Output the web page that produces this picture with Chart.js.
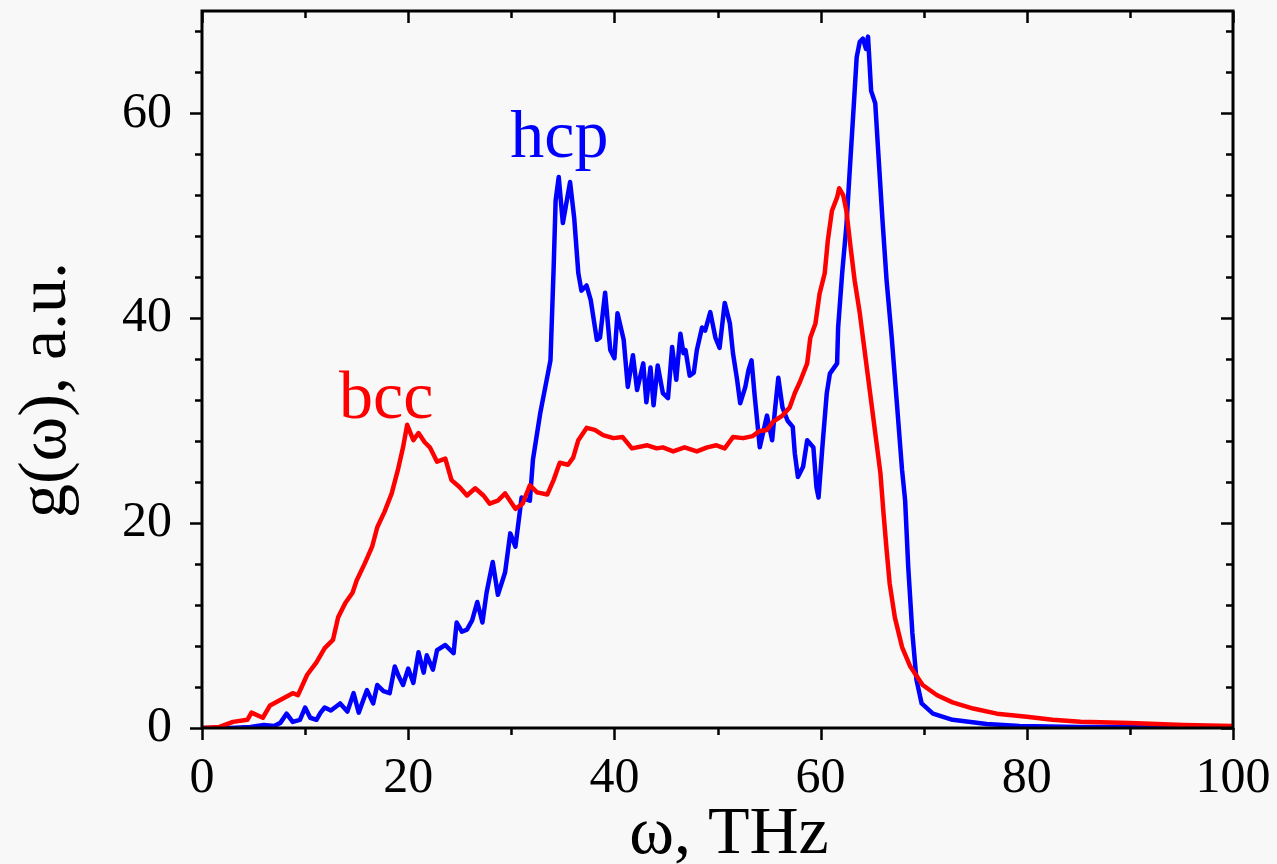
<!DOCTYPE html>
<html><head><meta charset="utf-8">
<script src="https://cdn.jsdelivr.net/npm/chart.js@4.4.0/dist/chart.umd.min.js"></script>
<style>html,body{margin:0;padding:0;background:#f8f8f8;}#wrap{width:1277px;height:864px;}</style>
</head><body><div id="wrap"><canvas id="c" width="1277" height="864"></canvas></div>
<script>
// ---- data (ω in THz, g(ω) in a.u.) ----
const hcpOmega = [0,2,2.7,4.7,6,7,7.6,8.2,8.8,9.5,10,10.5,11.1,11.5,11.9,12.5,13.4,14.1,14.7,15.2,16,16.6,17,17.6,18.2,18.7,19.1,19.5,20,20.5,21,21.5,21.8,22.4,22.8,23.6,24.4,24.7,25.2,25.7,26.2,26.7,27.2,27.6,28.2,28.7,29.4,29.9,30.4,31.0,31.8,32.1,32.8,33.3,33.8,34.1,34.3,34.6,35.0,35.7,36.1,36.5,36.8,37.3,37.7,38.3,38.6,39.1,39.6,40.0,40.3,40.9,41.3,41.8,42.2,42.8,43.1,43.5,43.8,44.2,44.7,45.2,45.6,46.0,46.4,46.7,46.9,47.3,47.7,48.0,48.5,48.8,49.3,49.8,50.2,50.7,51.2,51.5,51.9,52.2,52.7,53.0,53.3,53.6,54.1,54.8,55.3,55.6,55.9,56.3,56.8,57.3,57.5,57.8,58.3,58.7,59.3,59.6,59.8,60.2,60.6,60.9,61.6,61.7,62.1,62.5,62.8,63.2,63.5,63.8,64.1,64.4,64.6,64.9,65.3,65.6,66.0,66.4,66.9,67.4,67.9,68.2,68.5,68.9,69.3,69.8,70.9,72.8,76.1,79.3,85,100];
const hcpG = [0,0,0,0.1,0.3,0.2,0.5,1.4,0.6,0.8,2.0,1.0,0.8,1.5,2.0,1.7,2.4,1.6,3.4,1.5,3.7,2.4,4.2,3.6,3.4,6.0,5.0,4.2,5.8,4.4,7.4,5.4,7.1,5.7,7.6,8.1,7.3,10.3,9.4,9.6,10.5,12.3,10.3,13.2,16.2,13.0,15.2,19.0,17.7,22.5,22.2,26.2,30.7,33.3,35.9,44.7,51.5,53.8,49.3,53.3,49.8,44.4,42.7,43.2,41.8,37.9,38.1,42.5,36.9,36.1,40.5,37.9,33.3,36.4,33.0,35.6,31.8,35.2,31.5,35.4,32.7,32.2,37.2,34.0,38.5,36.6,36.9,34.4,34.7,36.9,39.1,38.8,40.6,38.1,37.1,41.5,39.5,36.6,34.0,31.7,33.3,34.9,35.9,32.5,27.4,30.5,28.1,31.3,34.2,31.3,30.0,29.4,26.8,24.5,25.5,28.1,27.4,23.5,22.5,27.8,32.7,34.6,35.6,39.1,44.5,49.0,54.0,60.5,65.5,67.0,67.3,66.3,67.5,62.2,61.0,56.1,49.6,43.7,38.1,31.7,25.2,22.2,15.7,9.3,4.7,2.4,1.4,0.8,0.4,0.2,0.1,0.1];
const bccOmega = [0,1.7,3,4.4,4.8,5.9,6.6,7.9,8.8,9.3,10.2,11.1,11.9,12.7,13.2,13.9,14.6,15.0,15.8,16.5,17.0,17.7,18.4,19.0,19.5,19.9,20.5,21.0,21.6,22.1,22.8,23.6,24.2,25.0,25.7,26.5,27.3,27.9,28.7,29.4,30.4,31.1,31.8,32.5,33.5,34.1,34.7,35.5,36.0,36.5,37.3,38.1,38.9,39.9,40.8,41.7,43.2,44.1,44.7,45.7,46.8,48.0,49.0,49.9,50.7,51.5,52.5,53.4,54.1,54.8,55.4,56.3,57.0,57.5,58.0,58.7,59.0,59.5,59.9,60.4,60.7,61.1,61.6,61.8,62.2,62.5,62.9,63.3,63.8,64.3,64.8,65.3,65.8,66.1,66.4,66.7,67.2,67.9,68.7,69.9,71.3,72.8,74.8,77.1,80.0,82.5,85.2,90,95.2,100];
const bccG = [0,0.1,0.6,0.8,1.5,1.0,2.2,2.9,3.4,3.2,5.2,6.4,7.8,8.6,10.8,12.2,13.2,14.4,16.1,17.7,19.6,21.1,22.9,25.2,27.4,29.6,28.1,28.8,27.9,27.4,26.0,26.3,24.2,23.5,22.7,23.4,22.7,21.9,22.2,22.9,21.4,21.9,23.7,23.0,22.8,24.2,25.9,25.7,26.4,28.1,29.3,29.1,28.6,28.3,28.4,27.3,27.6,27.3,27.4,27.0,27.4,27.0,27.4,27.6,27.3,28.4,28.3,28.5,29.0,29.1,29.9,30.5,31.3,32.7,33.8,35.6,38.1,39.5,42.4,44.4,47.6,50.5,51.8,52.7,52.0,50.5,47.0,43.7,40.5,36.6,32.7,28.8,24.9,21.0,17.4,14.1,10.8,7.9,6.0,4.2,3.2,2.5,1.9,1.4,1.1,0.8,0.6,0.5,0.3,0.2];
const xTickValues = [0,20,40,60,80,100];
const yTickValues = [0,20,40,60];
const seriesNames = ['bcc','hcp'];
const xTitle = 'ω, THz';
const yTitle = 'g(ω), a.u.';

const FONT = '"Liberation Serif","Times New Roman",serif';

const decor = {
  id: 'decor',
  beforeDraw(chart) {
    const c = chart.ctx;
    c.save(); c.fillStyle = '#f8f8f8'; c.fillRect(0,0,chart.width,chart.height); c.restore();
  },
  afterDraw(chart) {
    const c = chart.ctx, a = chart.chartArea, xs = chart.scales.x, ys = chart.scales.y;
    c.save();
    c.strokeStyle = '#000'; c.lineWidth = 3;
    c.strokeRect(a.left, a.top, a.right - a.left, a.bottom - a.top);
    c.lineWidth = 2.5;
    c.beginPath();
    for (let v = 0; v <= 100; v += 10) {
      const px = Math.round(xs.getPixelForValue(v)) + 0.5;
      const len = v % 20 === 0 ? 12 : 7;
      c.moveTo(px, a.bottom); c.lineTo(px, a.bottom + len);
      c.moveTo(px, a.top); c.lineTo(px, a.top + len);
    }
    for (let v = 0; v <= 68; v += 4) {
      const py = Math.round(ys.getPixelForValue(v)) + 0.5;
      const len = v % 20 === 0 ? 12 : 7;
      c.moveTo(a.left - len, py); c.lineTo(a.left, py);
      c.moveTo(a.right, py); c.lineTo(a.right - len, py);
    }
    c.stroke();
    // axis titles
    c.fillStyle = '#000';
    c.font = '68px ' + FONT;
    c.textAlign = 'center'; c.textBaseline = 'alphabetic';
    c.fillText(xTitle, 729, 853);
    c.translate(65, 390); c.rotate(-Math.PI / 2);
    c.fillText(yTitle, 0, 0);
    c.restore();
    // series labels
    c.save();
    c.font = '68px ' + FONT; c.textAlign = 'left'; c.textBaseline = 'alphabetic';
    c.fillStyle = '#0000ff';
    c.fillText(seriesNames[1], xs.getPixelForValue(29.9), ys.getPixelForValue(55.7));
    c.fillStyle = '#ff0000';
    c.fillText(seriesNames[0], xs.getPixelForValue(13.3), ys.getPixelForValue(30.3));
    c.restore();
  }
};

const toPts = (xa, ya) => xa.map((x, i) => ({x, y: ya[i]}));

new Chart(document.getElementById('c'), {
  type: 'line',
  data: {
    datasets: [
      {label: seriesNames[0], data: toPts(bccOmega, bccG), borderColor: '#ff0000', borderWidth: 4.5, pointRadius: 0, tension: 0, fill: false, order: 0, borderJoinStyle: 'round', borderCapStyle: 'round'},
      {label: seriesNames[1], data: toPts(hcpOmega, hcpG), borderColor: '#0000ff', borderWidth: 4.5, pointRadius: 0, tension: 0, fill: false, order: 1, borderJoinStyle: 'round', borderCapStyle: 'round'}
    ]
  },
  options: {
    responsive: false, animation: false, devicePixelRatio: 1,
    layout: {padding: {top: 11, right: 44, left: 0, bottom: 0}},
    plugins: {legend: {display: false}, tooltip: {enabled: false}},
    events: [],
    scales: {
      x: {
        type: 'linear', min: 0, max: 100,
        afterBuildTicks: s => { s.ticks = xTickValues.map(v => ({value: v})); },
        afterFit: s => { s.height = 136; s.paddingLeft = 0; s.paddingRight = 0; s.paddingTop = 0; s.paddingBottom = 0; },
        grid: {display: false}, border: {display: false},
        ticks: {font: {family: FONT, size: 50}, color: '#000', padding: 13, maxRotation: 0, autoSkip: false}
      },
      y: {
        type: 'linear', min: 0, max: 70,
        afterBuildTicks: s => { s.ticks = yTickValues.map(v => ({value: v})); },
        afterFit: s => { s.width = 202; s.paddingLeft = 0; s.paddingRight = 0; s.paddingTop = 0; s.paddingBottom = 0; },
        grid: {display: false}, border: {display: false},
        ticks: {font: {family: FONT, size: 50}, color: '#000', padding: 22, autoSkip: false}
      }
    }
  },
  plugins: [decor]
});
</script></body></html>
